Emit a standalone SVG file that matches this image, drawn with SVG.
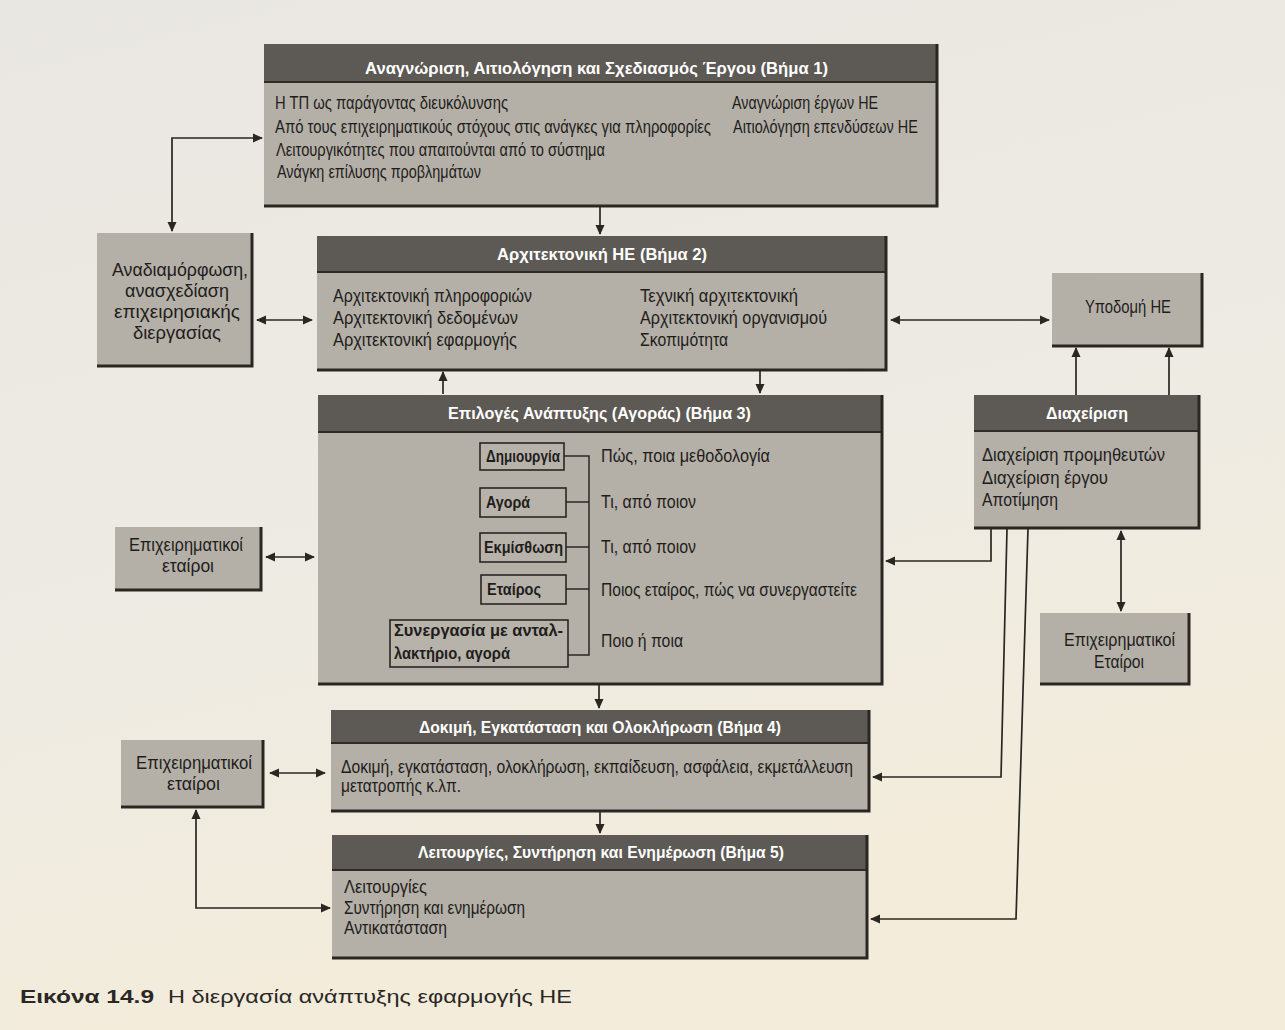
<svg xmlns="http://www.w3.org/2000/svg" width="1285" height="1030" viewBox="0 0 1285 1030">
  <defs>
    <linearGradient id="paper" x1="0" y1="0" x2="0.3" y2="1">
      <stop offset="0" stop-color="#e9e7e2"/>
      <stop offset="0.6" stop-color="#eeebe3"/>
      <stop offset="1" stop-color="#f3ecda"/>
    </linearGradient>
    <marker id="ah" viewBox="0 0 10 10" refX="9" refY="5" markerWidth="10" markerHeight="10" markerUnits="userSpaceOnUse" orient="auto-start-reverse">
      <path d="M0,0.5 L10,5 L0,9.5 Z" fill="#2a2622"/>
    </marker>
    <style>
      .body { fill: #b4b0a8; }
      .hdr { fill: #5d5954; }
      .edge { stroke: #2a2622; stroke-width: 3; fill: none; }
      .sep { stroke: #2f2b27; stroke-width: 2; fill: none; }
      .inner { fill: #b7b3ab; stroke: #2a2622; stroke-width: 1.6; }
      .title { fill: #ffffff; font-family: "Liberation Sans Narrow", "Liberation Sans", Arial, sans-serif; font-size: 17px; font-weight: bold; }
      .txt { fill: #1f1d1b; font-family: "Liberation Sans Narrow", "Liberation Sans", Arial, sans-serif; font-size: 17.5px; }
      .btxt { fill: #1f1d1b; font-family: "Liberation Sans Narrow", "Liberation Sans", Arial, sans-serif; font-size: 17px; font-weight: bold; }
      .cap { fill: #2a2725; font-family: "Liberation Sans", Arial, sans-serif; font-size: 19px; }
      .conn { stroke: #2a2622; stroke-width: 1.7; fill: none; }
      .tick { stroke: #2a2622; stroke-width: 1.5; fill: none; }
    </style>
  </defs>

  <rect x="0" y="0" width="1285" height="1030" fill="url(#paper)"/>

  <!-- Step 1 -->
  <g id="step1">
    <rect class="body" x="264" y="44" width="674" height="162"/>
    <rect class="hdr" x="264" y="44" width="674" height="38"/>
    <path class="sep" d="M264,82 H938"/>
    <path class="edge" d="M937,44 V206 H264"/>
    <text class="title" x="365" y="74" textLength="463" lengthAdjust="spacingAndGlyphs">Αναγνώριση, Αιτιολόγηση και Σχεδιασμός Έργου (Βήμα 1)</text>
    <text class="txt" x="275" y="109" textLength="233" lengthAdjust="spacingAndGlyphs">Η ΤΠ ως παράγοντας διευκόλυνσης</text>
    <text class="txt" transform="translate(275,133) scale(0.8,1)" textLength="545" lengthAdjust="spacingAndGlyphs">Από τους επιχειρηματικούς στόχους στις ανάγκες για πληροφορίες</text>
    <text class="txt" x="276" y="156" textLength="329" lengthAdjust="spacingAndGlyphs">Λειτουργικότητες που απαιτούνται από το σύστημα</text>
    <text class="txt" x="277" y="178" textLength="204" lengthAdjust="spacingAndGlyphs">Ανάγκη επίλυσης προβλημάτων</text>
    <text class="txt" x="732" y="109" textLength="146" lengthAdjust="spacingAndGlyphs">Αναγνώριση έργων ΗΕ</text>
    <text class="txt" transform="translate(733,133) scale(0.8,1)" textLength="231" lengthAdjust="spacingAndGlyphs">Αιτιολόγηση επενδύσεων ΗΕ</text>
  </g>

  <!-- Business process redesign -->
  <g id="redesign">
    <rect class="body" x="97" y="233" width="156" height="133"/>
    <path class="edge" d="M252,233 V366 H97"/>
    <text class="txt" x="112" y="276" textLength="136" lengthAdjust="spacingAndGlyphs">Αναδιαμόρφωση,</text>
    <text class="txt" x="125" y="297" textLength="104" lengthAdjust="spacingAndGlyphs">ανασχεδίαση</text>
    <text class="txt" x="114" y="318" textLength="126" lengthAdjust="spacingAndGlyphs">επιχειρησιακής</text>
    <text class="txt" x="133" y="339" textLength="88" lengthAdjust="spacingAndGlyphs">διεργασίας</text>
  </g>

  <!-- Step 2 -->
  <g id="step2">
    <rect class="body" x="317" y="236" width="570" height="134"/>
    <rect class="hdr" x="317" y="236" width="570" height="36"/>
    <path class="sep" d="M317,272 H887"/>
    <path class="edge" d="M886,236 V370 H317"/>
    <text class="title" x="497" y="260" textLength="210" lengthAdjust="spacingAndGlyphs">Αρχιτεκτονική ΗΕ (Βήμα 2)</text>
    <text class="txt" x="333" y="302" textLength="199" lengthAdjust="spacingAndGlyphs">Αρχιτεκτονική πληροφοριών</text>
    <text class="txt" x="333" y="324" textLength="185" lengthAdjust="spacingAndGlyphs">Αρχιτεκτονική δεδομένων</text>
    <text class="txt" x="333" y="346" textLength="184" lengthAdjust="spacingAndGlyphs">Αρχιτεκτονική εφαρμογής</text>
    <text class="txt" x="640" y="302" textLength="158" lengthAdjust="spacingAndGlyphs">Τεχνική αρχιτεκτονική</text>
    <text class="txt" x="640" y="324" textLength="187" lengthAdjust="spacingAndGlyphs">Αρχιτεκτονική οργανισμού</text>
    <text class="txt" x="640" y="346" textLength="88" lengthAdjust="spacingAndGlyphs">Σκοπιμότητα</text>
  </g>

  <!-- IS infrastructure -->
  <g id="infrastructure">
    <rect class="body" x="1052" y="273" width="151" height="73"/>
    <path class="edge" d="M1202,273 V346 H1052"/>
    <text class="txt" x="1085" y="313" textLength="86" lengthAdjust="spacingAndGlyphs">Υποδομή ΗΕ</text>
  </g>

  <!-- Management -->
  <g id="management">
    <rect class="body" x="974" y="395" width="226" height="133"/>
    <rect class="hdr" x="974" y="395" width="226" height="36"/>
    <path class="sep" d="M974,431 H1200"/>
    <path class="edge" d="M1199,395 V528 H974"/>
    <text class="title" x="1046" y="419" textLength="82" lengthAdjust="spacingAndGlyphs">Διαχείριση</text>
    <text class="txt" x="982" y="461" textLength="183" lengthAdjust="spacingAndGlyphs">Διαχείριση προμηθευτών</text>
    <text class="txt" x="982" y="484" textLength="126" lengthAdjust="spacingAndGlyphs">Διαχείριση έργου</text>
    <text class="txt" x="982" y="506" textLength="76" lengthAdjust="spacingAndGlyphs">Αποτίμηση</text>
  </g>

  <!-- Step 3 -->
  <g id="step3">
    <rect class="body" x="318" y="395" width="565" height="289"/>
    <rect class="hdr" x="318" y="395" width="565" height="37"/>
    <path class="sep" d="M318,432 H883"/>
    <path class="edge" d="M882,395 V684 H318"/>
    <text class="title" x="448" y="419" textLength="303" lengthAdjust="spacingAndGlyphs">Επιλογές Ανάπτυξης (Αγοράς) (Βήμα 3)</text>

    <rect class="inner" x="480" y="443" width="84" height="27"/>
    <rect class="inner" x="480" y="488" width="86" height="29"/>
    <rect class="inner" x="480" y="533" width="86" height="29"/>
    <rect class="inner" x="481" y="575" width="85" height="29"/>
    <rect class="inner" x="390" y="620" width="178" height="47"/>
    <text class="btxt" x="486" y="462" textLength="74" lengthAdjust="spacingAndGlyphs">Δημιουργία</text>
    <text class="btxt" x="486" y="508" textLength="44" lengthAdjust="spacingAndGlyphs">Αγορά</text>
    <text class="btxt" x="484" y="553" textLength="79" lengthAdjust="spacingAndGlyphs">Εκμίσθωση</text>
    <text class="btxt" x="487" y="595" textLength="54" lengthAdjust="spacingAndGlyphs">Εταίρος</text>
    <text class="btxt" x="394" y="636" textLength="169" lengthAdjust="spacingAndGlyphs">Συνεργασία με ανταλ-</text>
    <text class="btxt" x="394" y="659" textLength="116" lengthAdjust="spacingAndGlyphs">λακτήριο, αγορά</text>

    <path class="tick" d="M564,456 H589 V655 H568"/>
    <path class="tick" d="M566,502 H589 M566,547 H589 M566,589 H589"/>

    <text class="txt" x="601" y="462" textLength="169" lengthAdjust="spacingAndGlyphs">Πώς, ποια μεθοδολογία</text>
    <text class="txt" x="601" y="508" textLength="95" lengthAdjust="spacingAndGlyphs">Τι, από ποιον</text>
    <text class="txt" x="601" y="553" textLength="95" lengthAdjust="spacingAndGlyphs">Τι, από ποιον</text>
    <text class="txt" x="601" y="596" textLength="256" lengthAdjust="spacingAndGlyphs">Ποιος εταίρος, πώς να συνεργαστείτε</text>
    <text class="txt" x="601" y="647" textLength="82" lengthAdjust="spacingAndGlyphs">Ποιο ή ποια</text>
  </g>

  <!-- Business partners (Step 3) -->
  <g id="partners-mid">
    <rect class="body" x="115" y="527" width="147" height="63"/>
    <path class="edge" d="M261,527 V590 H115"/>
    <text class="txt" x="129" y="551" textLength="114" lengthAdjust="spacingAndGlyphs">Επιχειρηματικοί</text>
    <text class="txt" x="162" y="572" textLength="52" lengthAdjust="spacingAndGlyphs">εταίροι</text>
  </g>

  <!-- Business partners (management) -->
  <g id="partners-right">
    <rect class="body" x="1040" y="613" width="150" height="71"/>
    <path class="edge" d="M1189,613 V684 H1040"/>
    <text class="txt" x="1064" y="646" textLength="111" lengthAdjust="spacingAndGlyphs">Επιχειρηματικοί</text>
    <text class="txt" x="1094" y="668" textLength="50" lengthAdjust="spacingAndGlyphs">Εταίροι</text>
  </g>

  <!-- Step 4 -->
  <g id="step4">
    <rect class="body" x="331" y="710" width="539" height="101"/>
    <rect class="hdr" x="331" y="710" width="539" height="33"/>
    <path class="sep" d="M331,743 H870"/>
    <path class="edge" d="M869,710 V811 H331"/>
    <text class="title" x="419" y="733" textLength="362" lengthAdjust="spacingAndGlyphs">Δοκιμή, Εγκατάσταση και Ολοκλήρωση (Βήμα 4)</text>
    <text class="txt" x="341" y="773" textLength="512" lengthAdjust="spacingAndGlyphs">Δοκιμή, εγκατάσταση, ολοκλήρωση, εκπαίδευση, ασφάλεια, εκμετάλλευση</text>
    <text class="txt" x="341" y="792" textLength="120" lengthAdjust="spacingAndGlyphs">μετατροπής κ.λπ.</text>
  </g>

  <!-- Business partners (Steps 4-5) -->
  <g id="partners-low">
    <rect class="body" x="121" y="740" width="143" height="67"/>
    <path class="edge" d="M263,740 V807 H121"/>
    <text class="txt" x="136" y="769" textLength="116" lengthAdjust="spacingAndGlyphs">Επιχειρηματικοί</text>
    <text class="txt" x="167" y="790" textLength="53" lengthAdjust="spacingAndGlyphs">εταίροι</text>
  </g>

  <!-- Step 5 -->
  <g id="step5">
    <rect class="body" x="332" y="835" width="536" height="123"/>
    <rect class="hdr" x="332" y="835" width="536" height="35"/>
    <path class="sep" d="M332,870 H868"/>
    <path class="edge" d="M867,835 V958 H332"/>
    <text class="title" x="418" y="858" textLength="366" lengthAdjust="spacingAndGlyphs">Λειτουργίες, Συντήρηση και Ενημέρωση (Βήμα 5)</text>
    <text class="txt" x="344" y="893" textLength="83" lengthAdjust="spacingAndGlyphs">Λειτουργίες</text>
    <text class="txt" x="344" y="914" textLength="181" lengthAdjust="spacingAndGlyphs">Συντήρηση και ενημέρωση</text>
    <text class="txt" x="344" y="934" textLength="103" lengthAdjust="spacingAndGlyphs">Αντικατάσταση</text>
  </g>

  <!-- Connectors -->
  <g id="connectors">
    <path class="conn" d="M600,207 V234" marker-end="url(#ah)"/>
    <path class="conn" d="M172,231 V138 H262" marker-start="url(#ah)" marker-end="url(#ah)"/>
    <path class="conn" d="M257,320 H312" marker-start="url(#ah)" marker-end="url(#ah)"/>
    <path class="conn" d="M891,320 H1049" marker-start="url(#ah)" marker-end="url(#ah)"/>
    <path class="conn" d="M1076,395 V348" marker-end="url(#ah)"/>
    <path class="conn" d="M1169,395 V348" marker-end="url(#ah)"/>
    <path class="conn" d="M443,394 V372" marker-end="url(#ah)"/>
    <path class="conn" d="M760,371 V393" marker-end="url(#ah)"/>
    <path class="conn" d="M266,557 H314" marker-start="url(#ah)" marker-end="url(#ah)"/>
    <path class="conn" d="M991,529 V561 H886" marker-end="url(#ah)"/>
    <path class="conn" d="M1007,529 L1001,777 H873" marker-end="url(#ah)"/>
    <path class="conn" d="M1028,529 L1016,919 H871" marker-end="url(#ah)"/>
    <path class="conn" d="M1121,531 V611" marker-start="url(#ah)" marker-end="url(#ah)"/>
    <path class="conn" d="M599,685 V708" marker-end="url(#ah)"/>
    <path class="conn" d="M270,773 H325" marker-start="url(#ah)" marker-end="url(#ah)"/>
    <path class="conn" d="M600,812 V833" marker-end="url(#ah)"/>
    <path class="conn" d="M196,810 V908 H330" marker-start="url(#ah)" marker-end="url(#ah)"/>
  </g>

  <!-- Caption -->
  <text class="cap" x="20" y="1003"><tspan font-weight="bold" textLength="134" lengthAdjust="spacingAndGlyphs">Εικόνα 14.9</tspan></text>
  <text class="cap" x="168" y="1003" textLength="404" lengthAdjust="spacingAndGlyphs">Η διεργασία ανάπτυξης εφαρμογής ΗΕ</text>
</svg>
